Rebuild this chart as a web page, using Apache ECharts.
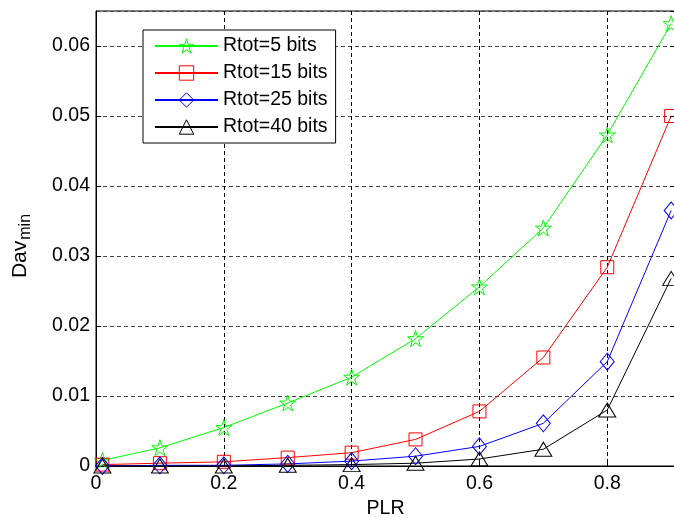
<!DOCTYPE html>
<html>
<head>
<meta charset="utf-8">
<script src="https://cdn.jsdelivr.net/npm/echarts@6/dist/echarts.min.js"></script>
<style>html,body{margin:0;padding:0;background:#fff}#c{width:674px;height:519px}</style>
</head>
<body>
<div id="c"></div>
<script>
const xValues = [0.01, 0.1, 0.2, 0.3, 0.4, 0.5, 0.6, 0.7, 0.8, 0.9];
const rtot5  = [0.0008, 0.0026, 0.0055, 0.0090, 0.0127, 0.0182, 0.0256, 0.0340, 0.0473, 0.0632];
const rtot15 = [0.0002, 0.0004, 0.0006, 0.0012, 0.0019, 0.0038, 0.0078, 0.0155, 0.0284, 0.0500];
const rtot25 = [0.0000, 0.0001, 0.0001, 0.0003, 0.0007, 0.0014, 0.0028, 0.0061, 0.0149, 0.0365];
const rtot40 = [0.0000, 0.0000, 0.0000, 0.0001, 0.0002, 0.0004, 0.0010, 0.0024, 0.0080, 0.0268];
const seriesNames = ['Rtot=5 bits', 'Rtot=15 bits', 'Rtot=25 bits', 'Rtot=40 bits'];
const xTicks = [0, 0.2, 0.4, 0.6, 0.8];
const yTicks = [0, 0.01, 0.02, 0.03, 0.04, 0.05, 0.06];

const FONT = 'Arial, "Liberation Sans", Helvetica, sans-serif';
const FS = 19.5;
const starPath = 'path://M100,0 L122.45,69.1 L195.1,69.1 L136.3,111.8 L158.8,180.9 L100,138.2 L41.2,180.9 L63.7,111.8 L4.9,69.1 L77.55,69.1 Z';

function mk(name, arr, color, symbol, size) {
  return {
    name: name,
    type: 'line',
    data: xValues.map((x, i) => [x, arr[i]]),
    color: color,
    symbol: symbol,
    symbolSize: size,
    showAllSymbol: true,
    lineStyle: { color: color, width: 1 },
    itemStyle: { color: 'rgba(255,255,255,0)', borderColor: color, borderWidth: 1 },
    emphasis: { disabled: true },
    animation: false
  };
}

const chart = echarts.init(document.getElementById('c'), null, { renderer: 'canvas' });
chart.setOption({
  animation: false,
  backgroundColor: '#fff',
  textStyle: { fontFamily: FONT },
  grid: { left: 96, top: 11, right: -1, bottom: 53, containLabel: false, outerBoundsMode: 'none',
    show: true, borderColor: '#000', borderWidth: 1, backgroundColor: '#fff' },
  legend: {
    orient: 'vertical',
    left: 143, top: 30,
    padding: [6, 8, 6, 11],
    itemGap: 7,
    itemWidth: 63,
    itemHeight: 18,
    backgroundColor: '#fff',
    borderColor: '#000',
    borderWidth: 1,
    itemStyle: { color: 'rgba(255,255,255,0)', borderWidth: 1 },
    textStyle: { fontSize: FS, color: '#000', fontFamily: FONT },
    data: seriesNames
  },
  xAxis: {
    type: 'value',
    min: 0, max: 0.906, interval: 0.2,
    name: 'PLR',
    nameLocation: 'middle',
    nameGap: 32,
    nameTextStyle: { fontSize: FS, color: '#000', fontFamily: FONT },
    axisLine: { show: true, lineStyle: { color: '#000', width: 1 } },
    axisTick: { show: true, inside: true, length: 5, lineStyle: { color: '#000' } },
    axisLabel: { fontSize: FS, color: '#000', margin: 8, fontFamily: FONT, showMaxLabel: false,
      formatter: v => (xTicks.some(t => Math.abs(t - v) < 1e-9) ? String(v) : '') },
    splitLine: { show: true, lineStyle: { color: '#000', type: [4, 3], width: 1 } }
  },
  yAxis: [{
    type: 'value',
    min: 0, max: 0.065, interval: 0.01,
    name: '{a|Dav}{b|min}',
    nameLocation: 'middle',
    nameGap: 62,
    nameRotate: 90,
    nameTextStyle: {
      color: '#000', fontFamily: FONT,
      rich: {
        a: { fontSize: 21, color: '#000', fontFamily: FONT },
        b: { fontSize: 16, color: '#000', fontFamily: FONT, padding: [12, 15, 0, 1] }
      }
    },
    axisLine: { show: true, lineStyle: { color: '#000', width: 1 } },
    axisTick: { show: true, inside: true, length: 5, lineStyle: { color: '#000' } },
    axisLabel: { fontSize: FS, color: '#000', margin: 6, fontFamily: FONT, showMaxLabel: false,
      formatter: v => (yTicks.some(t => Math.abs(t - v) < 1e-9) ? String(v) : '') },
    splitLine: { show: true, lineStyle: { color: '#444', type: [4, 3], width: 1 } }
  }, {
    type: 'value',
    position: 'right',
    min: 0, max: 0.065, interval: 0.01,
    axisLine: { show: false },
    axisTick: { show: true, inside: true, length: 5, lineStyle: { color: '#000' } },
    axisLabel: { show: false },
    splitLine: { show: false }
  }],
  series: [
    mk(seriesNames[0], rtot5, '#00ff00', starPath, 16),
    mk(seriesNames[1], rtot15, '#ff0000', 'rect', 13),
    mk(seriesNames[2], rtot25, '#0000ff', 'diamond', [14, 17]),
    mk(seriesNames[3], rtot40, '#000000', 'triangle', [17, 14])
  ]
});
</script>
</body>
</html>
